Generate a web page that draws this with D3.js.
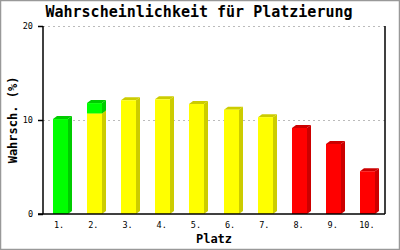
<!DOCTYPE html>
<html>
<head>
<meta charset="utf-8">
<script src="https://cdn.jsdelivr.net/npm/d3@7"></script>
<style>
  body { margin: 0; background: #fff; }
  svg { display: block; }
</style>
</head>
<body>
<div id="chart"></div>
<script>
// Platz categories and the three coloured series (stacked)
const categories = ["1.", "2.", "3.", "4.", "5.", "6.", "7.", "8.", "9.", "10."];
const gelb  = [0, 10.7, 12.1, 12.2, 11.7, 11.1, 10.3, 0, 0, 0];
const gruen = [10.1, 1.1, 0, 0, 0, 0, 0, 0, 0, 0];
const rot   = [0, 0, 0, 0, 0, 0, 0, 9.15, 7.45, 4.55];
const yTicks = [0, 10, 20];

const width = 400, height = 250;
const margin = { top: 26, right: 15, bottom: 36, left: 43 };
const depthX = 4, depthY = 3, barW = 15;

const colors = {
  gelb:  { front: "#ffff00", dark: "#cccc00" },
  gruen: { front: "#00ff00", dark: "#00cc00" },
  rot:   { front: "#ff0000", dark: "#cc0000" }
};
const mono = "'DejaVu Sans Mono', 'Liberation Mono', monospace";

const svg = d3.select("#chart").append("svg")
  .attr("width", width)
  .attr("height", height);

// frame
svg.append("rect")
  .attr("x", 0.5).attr("y", 0.5)
  .attr("width", width - 1).attr("height", height - 1)
  .attr("fill", "#fff")
  .attr("stroke", "#999")
  .attr("stroke-width", 1.5);

const x = d3.scaleBand()
  .domain(categories)
  .range([margin.left, width - margin.right])
  .padding(0);

const y = d3.scaleLinear()
  .domain([0, 20])
  .range([height - margin.bottom, margin.top]);

// grid lines
yTicks.filter(t => t > 0).forEach(t => {
  svg.append("line")
    .attr("x1", margin.left).attr("x2", width - margin.right)
    .attr("y1", y(t) + 0.5).attr("y2", y(t) + 0.5)
    .attr("stroke", "#bbb")
    .attr("stroke-dasharray", "2,3");
});

// stacked data
const rows = categories.map((c, i) => ({ cat: c, gelb: gelb[i], gruen: gruen[i], rot: rot[i] }));
const stack = d3.stack().keys(["gelb", "gruen", "rot"]);
const series = stack(rows);

const g = svg.append("g");
series.forEach(s => {
  const col = colors[s.key];
  s.forEach(d => {
    if (d[1] - d[0] <= 0) return;
    const cx = x(d.data.cat) + x.bandwidth() / 2;
    const x0 = Math.round(cx - barW / 2);
    const x1 = x0 + barW;
    const yTop = y(d[1]), yBot = y(d[0]);
    // side face
    g.append("polygon")
      .attr("points", [[x1, yBot], [x1, yTop], [x1 + depthX, yTop - depthY], [x1 + depthX, yBot - depthY]].join(" "))
      .attr("fill", col.dark);
    // top face
    g.append("polygon")
      .attr("points", [[x0, yTop], [x0 + depthX, yTop - depthY], [x1 + depthX, yTop - depthY], [x1, yTop]].join(" "))
      .attr("fill", col.dark);
    // front face
    g.append("rect")
      .attr("x", x0).attr("y", yTop)
      .attr("width", barW).attr("height", yBot - yTop)
      .attr("fill", col.front);
  });
});

// axes
const axisY = d3.axisLeft(y).tickValues(yTicks).tickSize(5).tickPadding(5);
const ay = svg.append("g")
  .attr("transform", `translate(${margin.left},0)`)
  .call(axisY);
ay.select(".domain").remove();
ay.selectAll("line").attr("stroke", "#000").attr("stroke-width", 1.5);
ay.selectAll("text").attr("font-family", mono).attr("font-size", 8.5).attr("fill", "#000");

svg.append("line")
  .attr("x1", margin.left).attr("x2", margin.left)
  .attr("y1", margin.top).attr("y2", y(0))
  .attr("stroke", "#000").attr("stroke-width", 1.5);
svg.append("line")
  .attr("x1", width - margin.right).attr("x2", width - margin.right)
  .attr("y1", margin.top).attr("y2", y(0))
  .attr("stroke", "#000").attr("stroke-width", 1.5);
svg.append("line")
  .attr("x1", margin.left - 5).attr("x2", width - margin.right)
  .attr("y1", y(0)).attr("y2", y(0))
  .attr("stroke", "#000").attr("stroke-width", 1.5);

const axisX = d3.axisBottom(x).tickSize(0).tickPadding(8);
const ax = svg.append("g")
  .attr("transform", `translate(0,${y(0)})`)
  .call(axisX);
ax.select(".domain").remove();
ax.selectAll("text").attr("font-family", mono).attr("font-size", 8.5).attr("fill", "#000")
  .attr("dx", -1);

// title and axis labels
svg.append("text")
  .attr("x", 199).attr("y", 17)
  .attr("text-anchor", "middle")
  .attr("font-family", mono).attr("font-size", 15).attr("font-weight", "bold")
  .text("Wahrscheinlichkeit für Platzierung");

svg.append("text")
  .attr("x", 214).attr("y", 243)
  .attr("text-anchor", "middle")
  .attr("font-family", mono).attr("font-size", 12).attr("font-weight", "bold")
  .text("Platz");

svg.append("text")
  .attr("transform", "translate(17,120) rotate(-90)")
  .attr("text-anchor", "middle")
  .attr("font-family", mono).attr("font-size", 12).attr("font-weight", "bold")
  .text("Wahrsch. (%)");
</script>
</body>
</html>
